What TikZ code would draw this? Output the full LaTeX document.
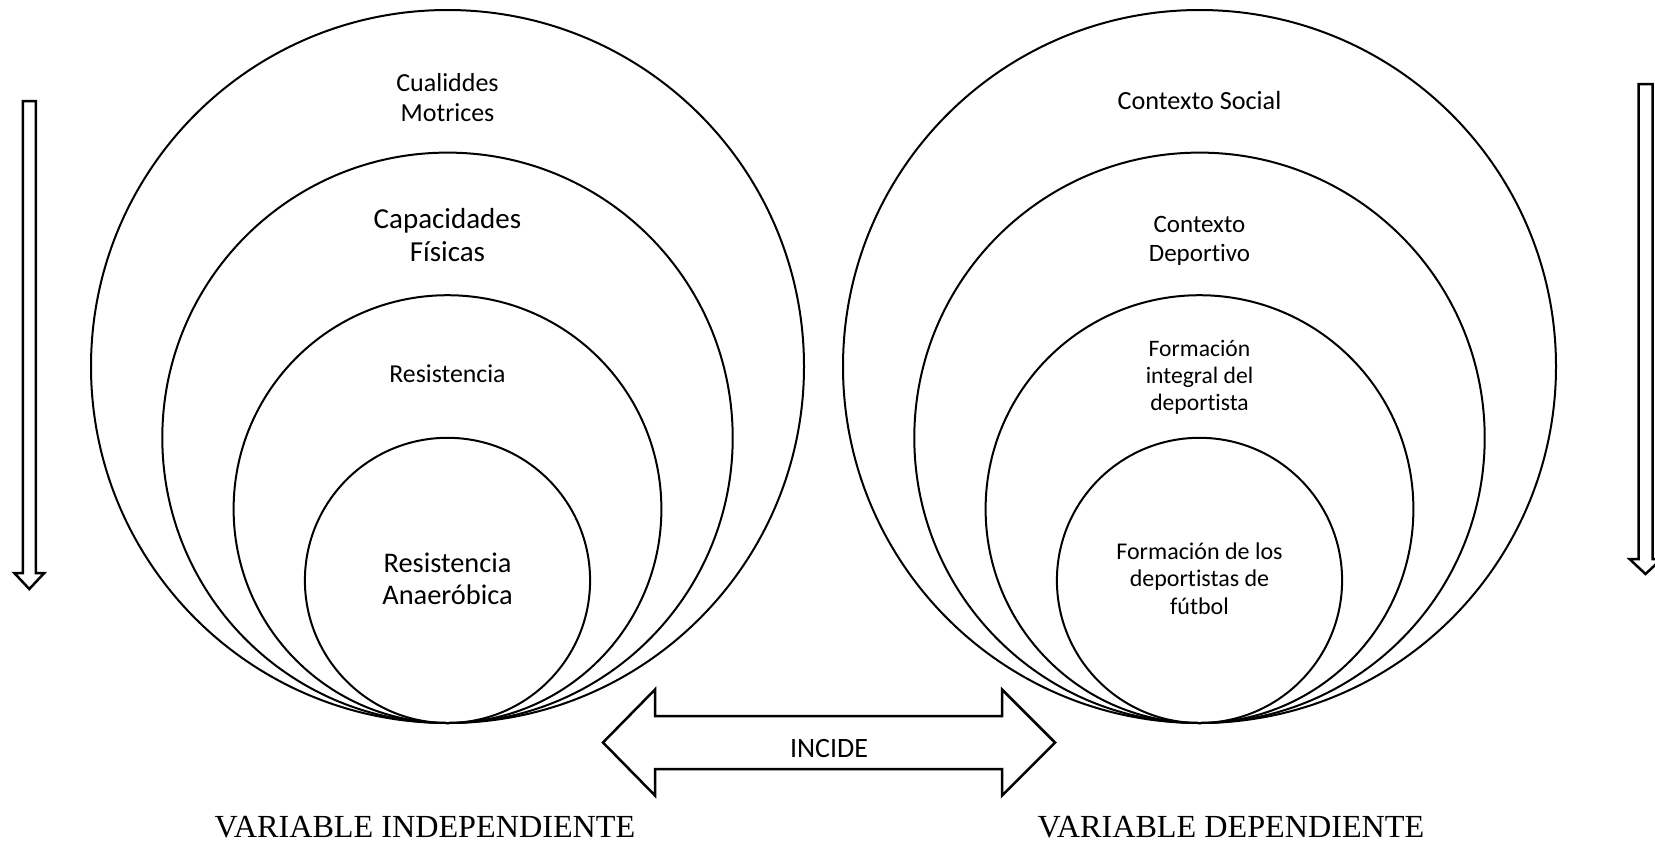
\documentclass[tikz,border=0pt]{standalone}
\usepackage{fontspec}
\setmainfont{Carlito}[Ligatures=NoCommon]
\newfontfamily\serifvar{Liberation Serif}
\usepackage{xcolor}
\usepackage{tikz}
\usetikzlibrary{calc}
\definecolor{ink}{HTML}{000000}
\newcommand{\fsz}[2]{\fontsize{#1}{#2}\selectfont}
\tikzset{
  ring/.style={draw=ink, line width=1pt},
  hollow/.style={draw=ink, line width=1.25pt, line join=miter, fill=white},
  lab/.style={text=ink, align=center, inner sep=0pt, anchor=base},
  varlab/.style={lab, font=\serifvar\fsz{16.1}{19}}
}

\begin{document}
\begin{tikzpicture}[x=0.5pt,y=-0.5pt]
  \useasboundingbox (0,0) rectangle (1655,842);
  \def\U{71.3}
  \coordinate (TL) at (447.5,723);
  \coordinate (TR) at (1199.5,723);
  % nested circles, all touching at the bottom point
  \foreach \k in {2,...,5}{
    \draw[ring] ($(TL)+(0,-\U*\k)$) circle (\U*\k);
    \draw[ring] ($(TR)+(0,-\U*\k)$) circle (\U*\k);
  }
  % left set (base = last line)
  \node[lab,font=\fsz{13}{14.75}] (cual) at (447.5,121.3) {Cualiddes\\Motrices};
  \node[lab,font=\fsz{14.5}{16.5}] (capa) at (447.5,261.8) {Capacidades\\Físicas};
  \node[lab,font=\fsz{12.9}{15}] (resi) at (447.5,382.7) {Resistencia};
  \node[lab,font=\fsz{14.2}{15.8}] (anae) at (447.5,604.4) {Resistencia\\Anaeróbica};
  % right set
  \node[lab,font=\fsz{13.1}{15}] (csoc) at (1199.5,109) {Contexto Social};
  \node[lab,font=\fsz{12.5}{14.75}] (cdep) at (1199.5,261.9) {Contexto\\Deportivo};
  \node[lab,font=\fsz{11.8}{13.5}] (fint) at (1199.5,410) {Formación\\integral del\\deportista};
  \node[lab,font=\fsz{12}{13.75}] (ffut) at (1199.5,614.3) {Formación de los\\deportistas de\\fútbol};
  % hollow down arrows at the sides
  \coordinate (la) at (29.3,101);
  \coordinate (ra) at (1645.5,84);
  \draw[hollow] (la) ++(-6.5,0) -- ++(13,0) -- ++(0,472) -- ++(8.5,0)
    -- ++(-15,16) -- ++(-15,-16) -- ++(8.5,0) -- cycle;
  \draw[hollow] (ra) ++(-7,0) -- ++(14,0) -- ++(0,475) -- ++(9,0)
    -- ++(-16,15) -- ++(-16,-15) -- ++(9,0) -- cycle;
  % double arrow between the two sets
  \coordinate (inc) at (829,742.5);
  \draw[hollow] (inc) ++(-226,0) -- ++(52,-53) -- ++(0,26.5) -- ++(347,0)
    -- ++(0,-26.5) -- ++(53,53) -- ++(-53,53) -- ++(0,-26.5) -- ++(-347,0)
    -- ++(0,26.5) -- cycle;
  \node[lab,font=\fsz{14}{17}] (incide) at (829,757) {INCIDE};
  % variable names
  \node[varlab] (vind) at (425,837) {VARIABLE INDEPENDIENTE};
  \node[varlab] (vdep) at (1231,837) {VARIABLE DEPENDIENTE};
\end{tikzpicture}
\end{document}
